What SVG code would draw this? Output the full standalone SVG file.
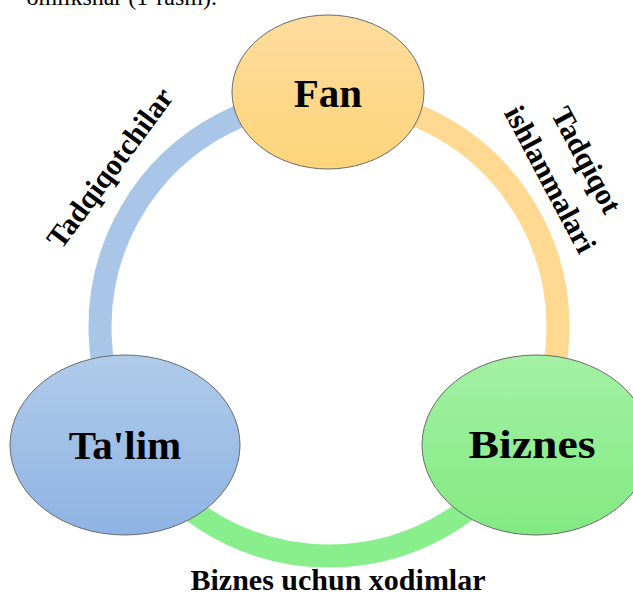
<svg xmlns="http://www.w3.org/2000/svg" width="633" height="595" viewBox="0 0 633 595">
<style>
.ring{fill:none;stroke-width:23}
.node{stroke:#6b6b6b;stroke-width:1}
.nlabel{font-family:"Liberation Serif","DejaVu Serif",serif;font-weight:bold;font-size:41px;fill:#000;text-anchor:middle}
.elabel{font-family:"Liberation Serif","DejaVu Serif",serif;font-weight:bold;font-size:30px;fill:#000;text-anchor:middle}
</style>
<defs>
<linearGradient id="gFan" x1="0" y1="0" x2="0" y2="1"><stop offset="0" stop-color="#fddc9d"/><stop offset="1" stop-color="#ffd47a"/></linearGradient>
<linearGradient id="gTalim" x1="0" y1="0" x2="0" y2="1"><stop offset="0" stop-color="#b0cbea"/><stop offset="1" stop-color="#8eb3e3"/></linearGradient>
<linearGradient id="gBiz" x1="0" y1="0" x2="0" y2="1"><stop offset="0" stop-color="#a4f1a4"/><stop offset="1" stop-color="#82ea82"/></linearGradient>
</defs>
<rect width="633" height="595" fill="#fff"/>
<text x="217" y="5" font-family="Liberation Serif, serif" font-size="24" text-anchor="end">omlikshar (1-rasm).</text>
<g id="connectors">
<path class="ring" stroke="#a9c5e8" d="M130.7,441.5 A229,229 0 0 1 329,98"/>
<path class="ring" stroke="#ffd891" d="M329,98 A229,229 0 0 1 527.3,441.5"/>
<path class="ring" stroke="#88ef8c" d="M527.3,441.5 A229,229 0 0 1 130.7,441.5"/>
</g>
<g id="label-tadqiqotchilar"><text class="elabel" transform="translate(110,168) rotate(-53.5)" y="10" font-size="31">Tadqiqotchilar</text></g>
<g id="label-tadqiqot-ishlanmalari"><text class="elabel" transform="translate(568,170) rotate(62)"><tspan x="0" y="-11">Tadqiqot</tspan><tspan x="0" y="30">ishlanmalari</tspan></text></g>
<g id="label-xodimlar"><text class="elabel" x="338" y="590" font-size="29">Biznes uchun xodimlar</text></g>
<g id="node-fan"><ellipse class="node" cx="328" cy="92" rx="96" ry="77" fill="url(#gFan)"/><text class="nlabel" x="328" y="107">Fan</text></g>
<g id="node-talim"><ellipse class="node" cx="125" cy="445" rx="115" ry="90" fill="url(#gTalim)"/><text class="nlabel" x="125" y="459">Ta'lim</text></g>
<g id="node-biznes"><ellipse class="node" cx="536" cy="445" rx="114" ry="90" fill="url(#gBiz)"/><text class="nlabel" x="532" y="458" textLength="127" lengthAdjust="spacingAndGlyphs">Biznes</text></g>
</svg>
